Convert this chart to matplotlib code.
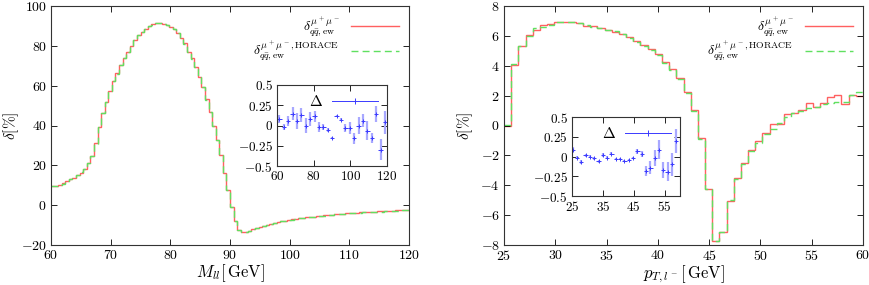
import numpy as np
import matplotlib
matplotlib.use("Agg")
import matplotlib.pyplot as plt
from matplotlib.lines import Line2D

plt.rcParams['font.family'] = 'serif'
plt.rcParams['font.serif'] = ['cmr10', 'DejaVu Serif']
plt.rcParams['mathtext.fontset'] = 'cm'
plt.rcParams['axes.formatter.use_mathtext'] = True

# ---------------- data ----------------
# left: invariant mass distribution, 100 bins of 0.6 GeV from 60 to 120
mll_lo, mll_hi, mll_nbins = 60.0, 120.0, 100
mll_recola = [
    9.5, 9.8, 10.0, 10.9, 12.1, 12.9, 13.7, 15.1, 16.4, 18.4,
    21.3, 24.8, 31.0, 39.4, 46.1, 51.9, 57.4, 62.3, 66.2, 70.2,
    73.7, 77.0, 80.0, 83.0, 85.2, 87.0, 88.6, 89.8, 90.8, 91.4,
    91.6, 91.2, 90.4, 89.6, 88.3, 86.3, 83.8, 81.2, 77.0, 73.7,
    69.5, 64.5, 59.1, 53.1, 46.9, 39.7, 32.7, 25.1, 16.2, 7.5,
    -1.0, -8.2, -12.5, -13.6, -13.5, -12.8, -12.1, -11.5, -10.9, -10.4,
    -9.8, -9.3, -8.9, -8.5, -8.1, -7.7, -7.4, -7.1, -6.8, -6.6,
    -6.3, -6.1, -5.9, -5.7, -5.5, -5.3, -5.1, -4.9, -4.7, -4.6,
    -4.4, -4.3, -4.1, -4.0, -3.9, -3.8, -3.6, -3.6, -3.5, -3.3,
    -3.3, -3.1, -3.1, -2.9, -2.8, -2.7, -2.5, -2.6, -2.4, -2.5]
mll_horace = [
    9.4, 9.8, 10.1, 10.8, 12.0, 13.0, 13.8, 15.0, 16.5, 18.3,
    21.4, 24.9, 30.9, 39.3, 46.2, 52.0, 57.3, 62.4, 66.1, 70.3,
    73.8, 76.9, 80.1, 82.9, 85.3, 87.0, 88.5, 89.9, 90.7, 91.4,
    91.7, 91.1, 90.5, 89.5, 88.4, 86.2, 83.9, 81.1, 77.1, 73.6,
    69.6, 64.4, 59.2, 53.0, 47.0, 39.6, 32.8, 25.0, 16.3, 7.4,
    -1.1, -8.1, -12.6, -13.5, -13.4, -12.9, -12.0, -11.6, -10.8, -10.4,
    -9.9, -9.3, -8.8, -8.5, -8.2, -7.7, -7.4, -7.2, -6.8, -6.6,
    -6.4, -6.1, -5.9, -5.8, -5.5, -5.3, -5.2, -4.9, -4.8, -4.6,
    -4.5, -4.3, -4.2, -4.0, -4.0, -3.8, -3.8, -3.6, -3.6, -3.4,
    -3.4, -3.3, -3.2, -3.1, -2.9, -2.9, -2.7, -2.7, -2.6, -2.6]

# right: pT of lepton, 50 bins of 0.7 GeV from 25 to 60
pt_lo, pt_hi, pt_nbins = 25.0, 60.0, 50
pt_recola = [
    -0.05, 4.05, 5.35, 6.06, 6.4, 6.7, 6.8, 6.95, 6.9, 6.9,
    6.84, 6.68, 6.66, 6.55, 6.4, 6.28, 6.1, 5.9, 5.66, 5.39,
    5.1, 4.77, 4.27, 3.78, 3.16, 2.26, 1.04, -0.86, -4.22, -7.73,
    -7.15, -5.05, -3.53, -2.49, -1.64, -1.02, -0.48, 0.08, 0.1, 0.75,
    0.86, 1.04, 1.49, 1.26, 1.49, 1.89, 2.04, 1.44, 2.04, 1.99]
pt_horace = [
    0.05, 4.15, 5.35, 6.0, 6.5, 6.6, 6.75, 6.9, 6.9, 6.9,
    6.85, 6.7, 6.6, 6.55, 6.4, 6.3, 6.1, 5.85, 5.6, 5.35,
    5.05, 4.7, 4.2, 3.7, 3.1, 2.2, 1.0, -0.9, -4.25, -7.75,
    -7.1, -5.0, -3.55, -2.55, -1.7, -1.15, -0.6, -0.25, 0.15, 0.6,
    0.82, 1.0, 1.15, 1.25, 1.45, 1.5, 1.55, 1.6, 2.05, 2.25]

# insets: difference Delta with errors
mll_delta_x = [61.3, 63.7, 66.1, 68.5, 70.9, 73.3, 75.7, 78.1, 80.5, 82.9,
               85.3, 87.7, 90.1, 92.5, 94.9, 97.3, 99.7, 102.1, 104.5, 106.9,
               109.3, 111.7, 114.1, 116.5, 118.9]
mll_delta = [0.075, -0.02, 0.06, 0.145, 0.06, 0.13, 0.0, 0.08, 0.115, -0.02,
             -0.02, -0.055, -0.155, 0.12, 0.07, -0.03, -0.03, -0.16, 0.0, 0.06,
             -0.065, -0.155, 0.14, -0.3, 0.04]
mll_delta_err = [0.05, 0.04, 0.06, 0.08, 0.1, 0.09, 0.09, 0.09, 0.07, 0.06,
                 0.04, 0.03, 0.015, 0.015, 0.02, 0.05, 0.07, 0.07, 0.1, 0.08,
                 0.12, 0.06, 0.1, 0.13, 0.14]

pt_delta_x = [25.2, 26.6, 28.0, 29.4, 30.8, 32.2, 33.6, 35.0, 36.4, 37.8,
              39.2, 40.6, 42.0, 43.4, 44.8, 46.2, 47.6, 49.0, 50.4, 51.8,
              53.2, 54.6, 56.0, 57.4, 58.8]
pt_delta = [0.085, -0.015, -0.07, 0.015, -0.005, -0.025, -0.06, 0.02, -0.015, 0.035,
            -0.035, -0.035, -0.055, -0.045, -0.015, 0.065, 0.035, -0.185, -0.14, -0.02,
            0.085, -0.17, -0.19, -0.1, 0.2]
pt_delta_err = [0.03, 0.02, 0.02, 0.02, 0.02, 0.02, 0.02, 0.02, 0.02, 0.02,
                0.015, 0.015, 0.015, 0.015, 0.015, 0.03, 0.035, 0.06, 0.08, 0.1,
                0.12, 0.1, 0.12, 0.15, 0.15]

lab_recola = r'$\delta^{\mu^+\mu^-}_{q\bar{q},\mathrm{ew}}$'
lab_horace = r'$\delta^{\mu^+\mu^-,\mathrm{HORACE}}_{q\bar{q},\mathrm{ew}}$'

RED = '#ff6060'
GREEN = '#60e060'
BLUE = '#3a3aff'
LBLUE = '#a8a8ff'

W, H = 869, 285
fig = plt.figure(figsize=(W / 100, H / 100), dpi=100)


def frac(x0, y0, x1, y1):
    return [x0 / W, 1 - y1 / H, (x1 - x0) / W, (y1 - y0) / H]


def style(ax, fs=10):
    ax.tick_params(direction='in', which='both', top=True, right=True,
                   labelsize=fs, length=4, width=0.6, pad=3)
    for s in ax.spines.values():
        s.set_linewidth(0.8)
        s.set_color('#333333')


def main_panel(ax, lo, hi, n, rec, hor):
    edges = np.linspace(lo, hi, n + 1)
    ax.stairs(rec, edges, color=RED, lw=1.0, label=lab_recola, baseline=None)
    ax.stairs(hor, edges, color=GREEN, lw=1.0, ls=(0, (5, 3)),
              label=lab_horace, baseline=None)
    leg = ax.legend(loc='upper right', frameon=False, markerfirst=False,
                    fontsize=10, handlelength=3.5, labelspacing=0.1,
                    borderaxespad=0.3, handletextpad=0.8)
    for t in leg.get_texts():
        t.set_ha('right')


def inset(ax, x, y, e, hw):
    ax.errorbar(x, y, yerr=e, fmt='none', ecolor=LBLUE, elinewidth=1.6)
    ax.errorbar(x, y, xerr=hw, fmt='none', ecolor=BLUE, elinewidth=0.7)
    ax.plot(x, y, ls='none', marker='|', color=BLUE, ms=3, mew=0.7)
    h = Line2D([], [], color=BLUE, lw=0.7, marker='|', ms=4, mew=0.7)
    ax.legend([h], [r'$\Delta$'], loc='upper right', frameon=False,
              markerfirst=False, fontsize=11, handlelength=3.0,
              numpoints=1, borderaxespad=0.2, handletextpad=0.6)
    ax.set_ylim(-0.5, 0.5)
    ax.set_yticks([-0.5, -0.25, 0, 0.25, 0.5])
    ax.set_yticklabels(['$-0.5$', '$-0.25$', '$0$', '$0.25$', '$0.5$'])


# left main
axL = fig.add_axes(frac(51, 6, 409, 245))
main_panel(axL, mll_lo, mll_hi, mll_nbins, mll_recola, mll_horace)
axL.set_xlim(60, 120)
axL.set_ylim(-20, 100)
axL.set_xticks(np.arange(60, 121, 10))
axL.set_yticks(np.arange(-20, 101, 20))
axL.set_xlabel(r'$M_{ll}[\,\mathrm{GeV}]$', fontsize=12, labelpad=0)
axL.set_ylabel(r'$\delta[\%]$', fontsize=11, labelpad=0)
style(axL)

# right main
axR = fig.add_axes(frac(504, 6, 863, 245))
main_panel(axR, pt_lo, pt_hi, pt_nbins, pt_recola, pt_horace)
axR.set_xlim(25, 60)
axR.set_ylim(-8, 8)
axR.set_xticks(np.arange(25, 61, 5))
axR.set_yticks(np.arange(-8, 9, 2))
axR.set_xlabel(r'$p_{T,l^-}[\,\mathrm{GeV}]$', fontsize=12, labelpad=0)
axR.set_ylabel(r'$\delta[\%]$', fontsize=11, labelpad=4)
style(axR)

# left inset
axLi = fig.add_axes(frac(277, 85, 387, 166))
inset(axLi, mll_delta_x, mll_delta, mll_delta_err, 1.2)
axLi.set_xlim(60, 120)
axLi.set_xticks([60, 80, 100, 120])
style(axLi, 9.5)

# right inset
axRi = fig.add_axes(frac(572, 117, 680, 196))
inset(axRi, pt_delta_x, pt_delta, pt_delta_err, 0.7)
axRi.set_xlim(25, 60)
axRi.set_xticks([25, 35, 45, 55])
style(axRi, 9.5)

fig.savefig('out.png', dpi=100)
